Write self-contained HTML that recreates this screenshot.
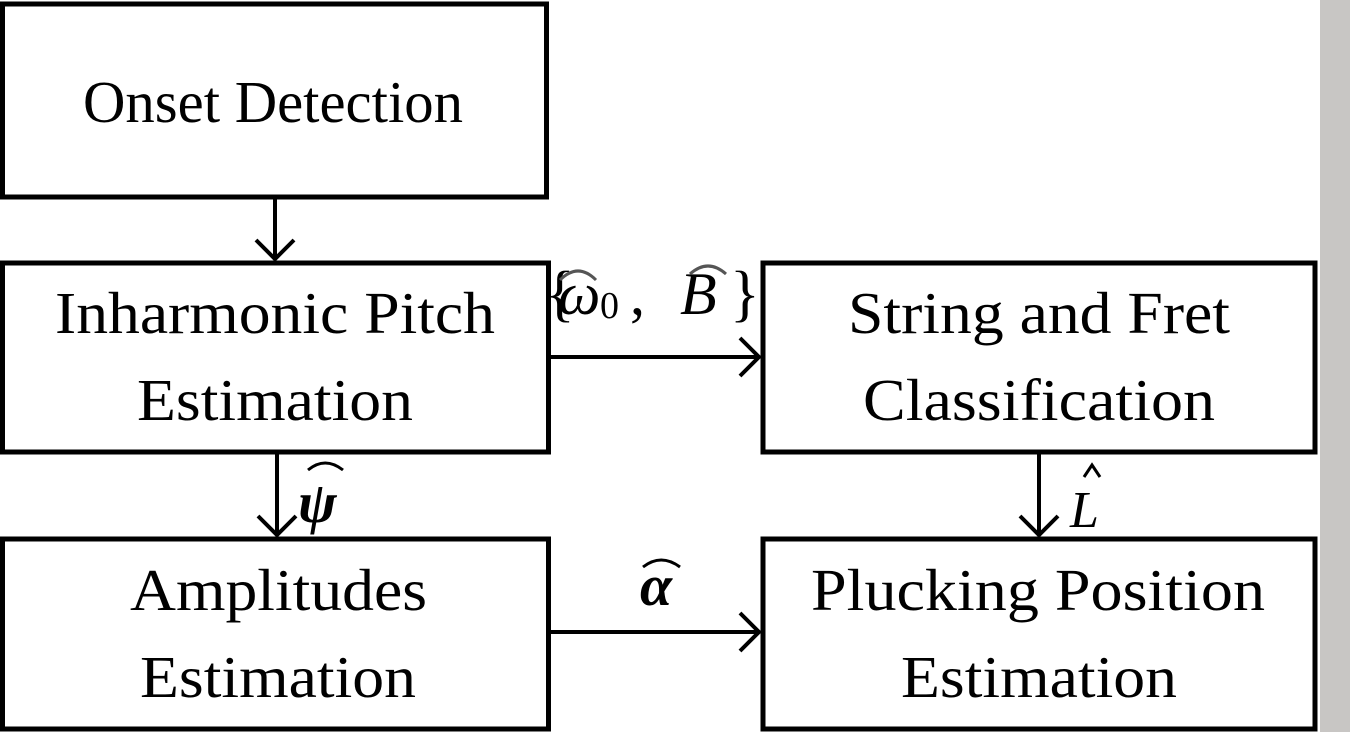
<!DOCTYPE html>
<html><head><meta charset="utf-8"><style>
html,body{margin:0;padding:0;background:#fff;}
svg{display:block;}
text{font-family:"Liberation Serif",serif;fill:#000;}
</style></head><body>
<svg width="1350" height="732" viewBox="0 0 1350 732">
<rect x="1320" y="0" width="30" height="732" fill="#c8c6c4"/>
<g fill="none" stroke="#000" stroke-width="5">
<rect x="2.5" y="4" width="544" height="193"/>
<rect x="2.5" y="263" width="546" height="189"/>
<rect x="763" y="263" width="552" height="189"/>
<rect x="2.5" y="539" width="546" height="190"/>
<rect x="763" y="539" width="552" height="190"/>
</g>
<g fill="none" stroke="#000" stroke-width="4">
<path d="M275 199 V259 M256 240 L275 259 L294 240"/>
<path d="M277 454 V535 M258 516 L277 535 L296 516"/>
<path d="M1039 454 V535 M1020 516 L1039 535 L1058 516"/>
<path d="M551 357 H759 M740 338 L759 357 L740 376"/>
<path d="M551 632 H759 M740 613 L759 632 L740 651"/>
</g>
<g font-size="59">
<text x="83" y="122" textLength="380" lengthAdjust="spacingAndGlyphs">Onset Detection</text>
<text x="55" y="333" textLength="440" lengthAdjust="spacingAndGlyphs">Inharmonic Pitch</text>
<text x="137" y="420" textLength="276" lengthAdjust="spacingAndGlyphs">Estimation</text>
<text x="848" y="333" textLength="382" lengthAdjust="spacingAndGlyphs">String and Fret</text>
<text x="863" y="420" textLength="352" lengthAdjust="spacingAndGlyphs">Classification</text>
<text x="130" y="610" textLength="297" lengthAdjust="spacingAndGlyphs">Amplitudes</text>
<text x="140" y="697" textLength="276" lengthAdjust="spacingAndGlyphs">Estimation</text>
<text x="811" y="610" textLength="454" lengthAdjust="spacingAndGlyphs">Plucking Position</text>
<text x="901" y="697" textLength="276" lengthAdjust="spacingAndGlyphs">Estimation</text>
</g>
<g>
<text x="545" y="314" font-size="62" fill="#555">{</text>
<text x="558" y="314" font-size="60" font-style="italic" fill="#555">ω</text>
<text x="600" y="318" font-size="38" fill="#555">0</text>
<text x="630" y="314" font-size="60" fill="#555">,</text>
<text x="680" y="314" font-size="60" font-style="italic" fill="#555">B</text>
<text x="730" y="314" font-size="62" fill="#555">}</text>
<path d="M560 280 Q578 262 596 280 M690 274 Q708 258 726 274" fill="none" stroke="#555" stroke-width="3"/>
</g>
<g>
<text x="298" y="522" font-size="58" font-weight="bold" font-style="italic">ψ</text>
<path d="M308 470 Q325 456 343 470" fill="none" stroke="#000" stroke-width="3"/>
</g>
<g>
<text x="640" y="605" font-size="58" font-weight="bold" font-style="italic">α</text>
<path d="M643 567 Q661 553 680 567" fill="none" stroke="#000" stroke-width="3"/>
</g>
<g>
<text x="1070" y="527" font-size="52" font-style="italic">L</text>
<path d="M1084 477 L1092 465 L1100 477" fill="none" stroke="#000" stroke-width="3"/>
</g>
</svg>
</body></html>
